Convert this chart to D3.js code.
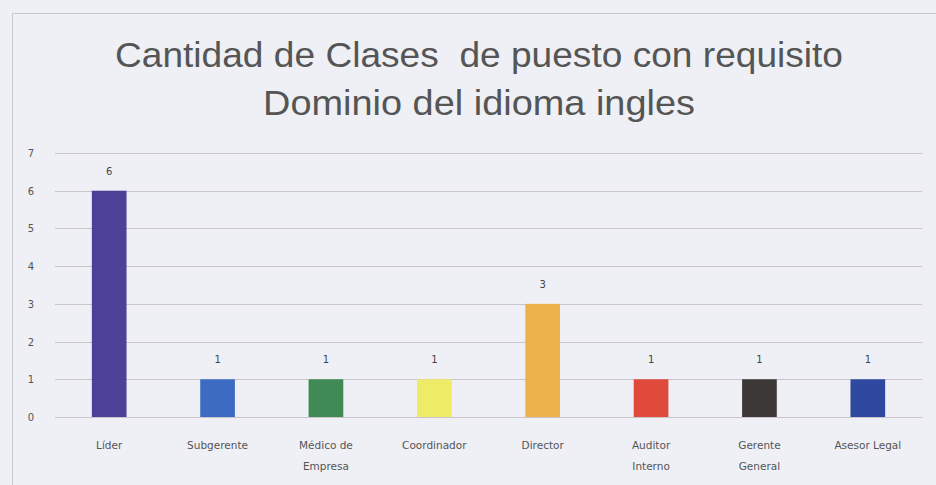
<!DOCTYPE html>
<html>
<head>
<meta charset="utf-8">
<script src="https://cdn.jsdelivr.net/npm/d3@7"></script>
<style>
  html, body { margin: 0; padding: 0; background: #eef0f5; }
  svg { display: block; }
</style>
</head>
<body>
<div id="chart"></div>
<script>
const categories = ["Líder", "Subgerente", "Médico de Empresa", "Coordinador", "Director", "Auditor Interno", "Gerente General", "Asesor Legal"];
const labelLines = [["Líder"], ["Subgerente"], ["Médico de", "Empresa"], ["Coordinador"], ["Director"], ["Auditor", "Interno"], ["Gerente", "General"], ["Asesor Legal"]];
const values = [6, 1, 1, 1, 3, 1, 1, 1];
const barColors = ["#4c4199", "#3d6bc2", "#3f8a55", "#eeeb66", "#eeb24c", "#df4a3a", "#3c3838", "#2f48a0"];
const yTicks = [0, 1, 2, 3, 4, 5, 6, 7];
const titleLines = ["Cantidad de Clases  de puesto con requisito", "Dominio del idioma ingles"];

const width = 936;
const height = 485;
const margin = { left: 55, right: 14, top: 153, bottom: 68 };

const svg = d3.select("#chart")
  .append("svg")
  .attr("width", width)
  .attr("height", height);

svg.append("rect")
  .attr("width", width)
  .attr("height", height)
  .attr("fill", "#eef0f5");

// chart frame (cropped at right and bottom)
svg.append("path")
  .attr("d", `M12.5,${height} V13.5 H${width}`)
  .attr("fill", "none")
  .attr("stroke", "#c9c7cc")
  .attr("stroke-width", 1);

const x = d3.scaleBand()
  .domain(categories)
  .range([margin.left, width - margin.right])
  .paddingInner(0.68)
  .paddingOuter(0.34);

const y = d3.scaleLinear()
  .domain([0, 7])
  .range([height - margin.bottom, margin.top]);

// gridlines
svg.append("g")
  .selectAll("line")
  .data(yTicks)
  .enter()
  .append("line")
  .attr("x1", margin.left)
  .attr("x2", width - margin.right)
  .attr("y1", d => Math.round(y(d)) + 0.5)
  .attr("y2", d => Math.round(y(d)) + 0.5)
  .attr("stroke", "#cbc5ca")
  .attr("stroke-width", 1);

// y labels
svg.append("g")
  .selectAll("text")
  .data(yTicks)
  .enter()
  .append("text")
  .attr("x", 31)
  .attr("y", d => y(d) + 4)
  .attr("text-anchor", "middle")
  .attr("font-family", "DejaVu Sans, sans-serif")
  .attr("font-size", 10)
  .attr("fill", "#555")
  .text(d => d);

// bars
svg.selectAll(".bar")
  .data(categories)
  .enter()
  .append("rect")
  .attr("class", "bar")
  .attr("x", d => x(d))
  .attr("y", (d, i) => y(values[i]))
  .attr("width", x.bandwidth())
  .attr("height", (d, i) => y(0) - y(values[i]))
  .attr("fill", (d, i) => barColors[i]);

// value labels
svg.selectAll(".bar-label")
  .data(categories)
  .enter()
  .append("text")
  .attr("class", "bar-label")
  .attr("x", d => x(d) + x.bandwidth() / 2)
  .attr("y", (d, i) => y(values[i]) - 16)
  .attr("text-anchor", "middle")
  .attr("font-family", "DejaVu Sans, sans-serif")
  .attr("font-size", 10)
  .attr("fill", "#444")
  .text((d, i) => values[i]);

// category labels
const cat = svg.selectAll(".cat-label")
  .data(categories)
  .enter()
  .append("text")
  .attr("class", "cat-label")
  .attr("x", d => x(d) + x.bandwidth() / 2)
  .attr("y", 449)
  .attr("text-anchor", "middle")
  .attr("font-family", "DejaVu Sans, sans-serif")
  .attr("font-size", 10.5)
  .attr("fill", "#555");

cat.each(function(d, i) {
  d3.select(this).selectAll("tspan")
    .data(labelLines[i])
    .enter()
    .append("tspan")
    .attr("x", x(d) + x.bandwidth() / 2)
    .attr("dy", (t, j) => j === 0 ? 0 : 21)
    .text(t => t);
});

// title
const titleWidths = [728, 432];
svg.append("g")
  .selectAll("text")
  .data(titleLines)
  .enter()
  .append("text")
  .attr("x", 479)
  .attr("y", (d, i) => 67 + i * 48)
  .attr("text-anchor", "middle")
  .attr("font-family", "Liberation Sans, Arial, sans-serif")
  .attr("font-size", 35)
  .attr("textLength", (d, i) => titleWidths[i])
  .attr("lengthAdjust", "spacingAndGlyphs")
  .attr("fill", "#555")
  .style("white-space", "pre")
  .text(d => d);
</script>
</body>
</html>
